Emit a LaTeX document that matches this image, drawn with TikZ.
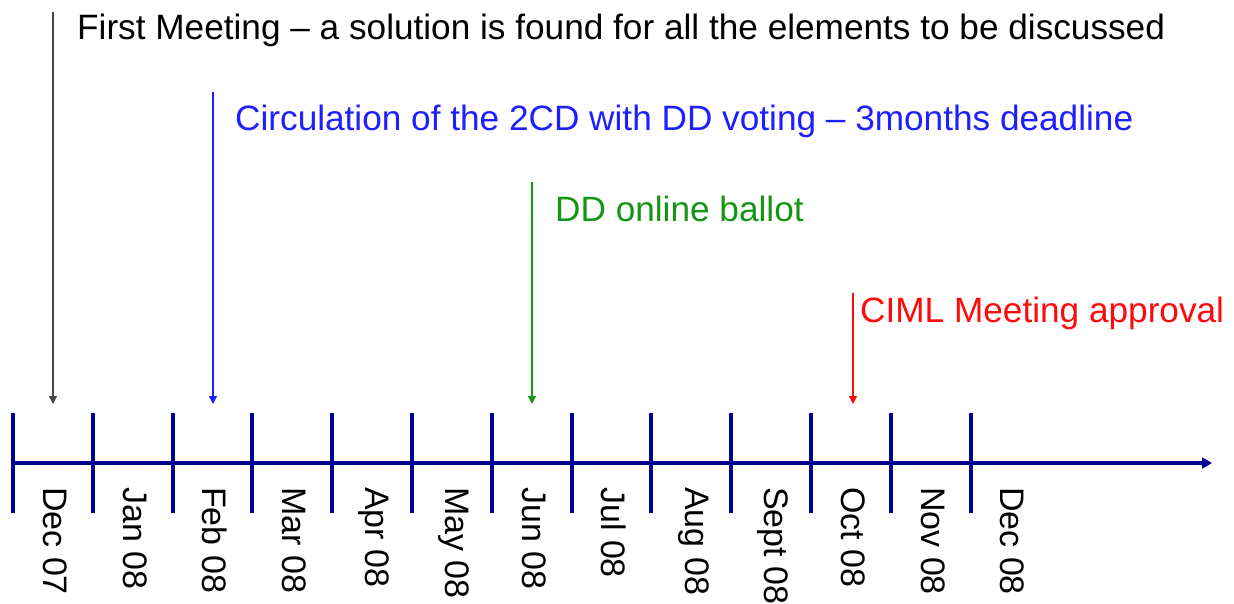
\documentclass[tikz,border=0pt]{standalone}
\usepackage{fontspec}
\setmainfont{Liberation Sans}
\usetikzlibrary{arrows.meta}

\definecolor{axisblue}{RGB}{0,0,145}
\definecolor{evblack}{RGB}{70,70,70}
\definecolor{evblue}{RGB}{30,30,255}
\definecolor{evgreen}{RGB}{20,150,20}
\definecolor{evred}{RGB}{255,10,10}

\tikzset{
  axisline/.style={draw=axisblue, line width=3.6pt, -{Triangle[width=11pt,length=10pt]}},
  tickline/.style={draw=axisblue, line width=3.9pt},
  monthlabel/.style={rotate=-90, anchor=west, inner sep=0pt, font=\fontsize{34}{38}\selectfont},
  evarrow/.style={line width=1.4pt, -{Triangle[width=8pt,length=8pt]}},
  evtext/.style={anchor=base west, inner sep=0pt, font=\fontsize{35.2}{40}\selectfont},
}

\begin{document}
\begin{tikzpicture}[x=1pt,y=-1pt]
\useasboundingbox (0,0) rectangle (1234,604);

% time axis
\coordinate (axstart) at (11,463);
\coordinate (axend) at (1212,463);
\draw[axisline] (axstart) -- (axend);

% month ticks and labels
\foreach \i in {0,...,12}{
  \coordinate (tt\i) at ({13+\i*79.8},413);
  \coordinate (tb\i) at ({13+\i*79.8},513);
  \draw[tickline] (tt\i) -- (tb\i);
}
\foreach \m [count=\i from 0] in {Dec 07,Jan 08,Feb 08,Mar 08,Apr 08,May 08,Jun 08,Jul 08,Aug 08,Sept 08,Oct 08,Nov 08,Dec 08}{
  \node[monthlabel] (m\i) at ({55+\i*79.8},487) {\m};
}

% events
\coordinate (e1s) at (53,12);  \coordinate (e1e) at (53,404);
\coordinate (e2s) at (213,92); \coordinate (e2e) at (213,404);
\coordinate (e3s) at (532,182); \coordinate (e3e) at (532,404);
\coordinate (e4s) at (853,293); \coordinate (e4e) at (853,404);

\draw[evarrow, draw=evblack, fill=black] (e1s) -- (e1e);
\draw[evarrow, draw=evblue, fill=evblue] (e2s) -- (e2e);
\draw[evarrow, draw=evgreen, fill=evgreen] (e3s) -- (e3e);
\draw[evarrow, draw=evred, fill=evred] (e4s) -- (e4e);

\node[evtext, text=black] (t1) at (77,40) {First Meeting – a solution is found for all the elements to be discussed};
\node[evtext, text=evblue] (t2) at (235,131) {Circulation of the 2CD with DD voting – 3months deadline};
\node[evtext, text=evgreen] (t3) at (555,222) {DD online ballot};
\node[evtext, text=evred] (t4) at (860,322) {CIML Meeting approval};
\end{tikzpicture}
\end{document}
